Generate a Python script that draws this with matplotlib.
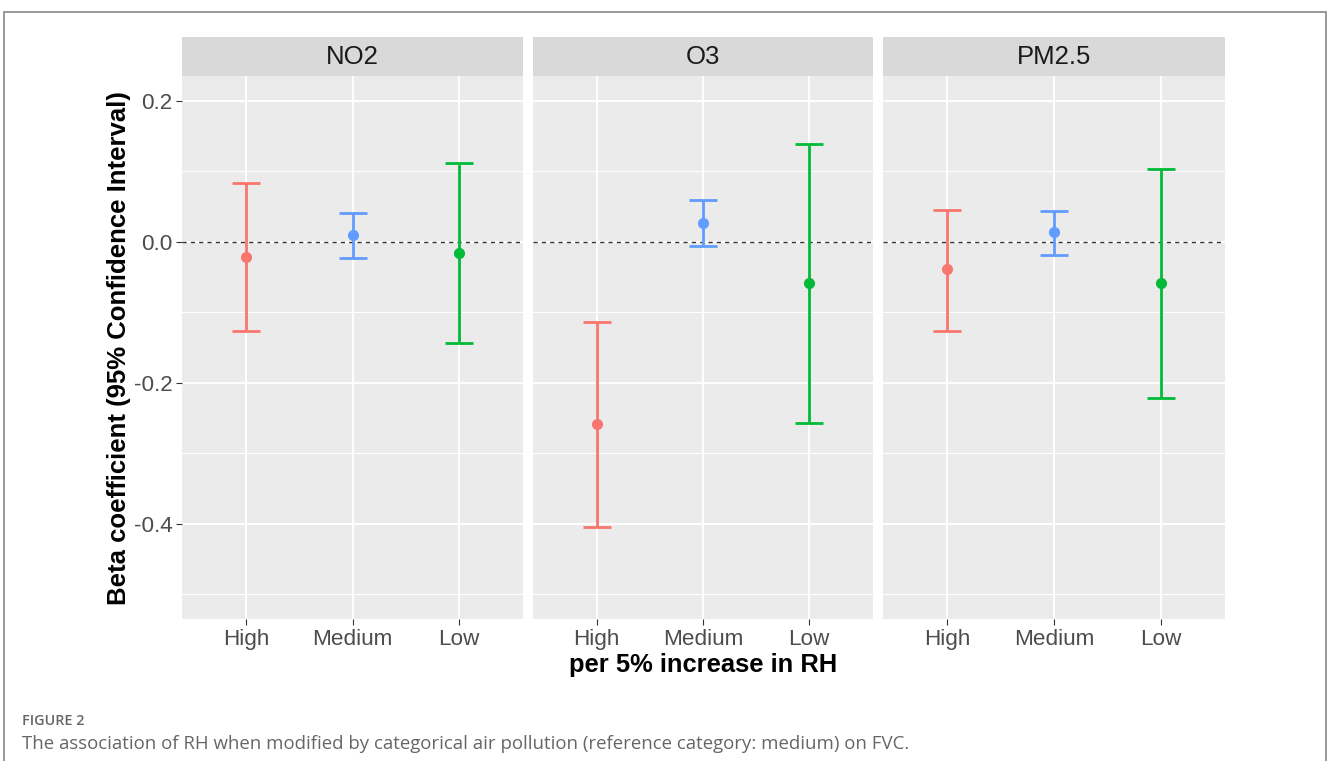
import matplotlib
matplotlib.use("Agg")
import matplotlib.pyplot as plt
from matplotlib.patches import Rectangle

pollutants = ["NO2", "O3", "PM2.5"]
levels = ["High", "Medium", "Low"]
colors = {"High": "#F8766D", "Medium": "#619CFF", "Low": "#00BA38"}

beta = {
    "NO2":   [-0.021, 0.010, -0.016],
    "O3":    [-0.258, 0.027, -0.058],
    "PM2.5": [-0.038, 0.014, -0.058],
}
lower = {
    "NO2":   [-0.126, -0.023, -0.143],
    "O3":    [-0.404, -0.006, -0.257],
    "PM2.5": [-0.126, -0.018, -0.221],
}
upper = {
    "NO2":   [0.084, 0.041, 0.112],
    "O3":    [-0.113, 0.060, 0.139],
    "PM2.5": [0.045, 0.044, 0.104],
}
yticks = [0.2, 0.0, -0.2, -0.4]
ytick_labels = ["0.2", "0.0", "-0.2", "-0.4"]
minor_y = [0.1, -0.1, -0.3, -0.5]

W, H = 1328, 761
fig = plt.figure(figsize=(W / 100, H / 100), dpi=100)
FONT = ["Liberation Sans", "DejaVu Sans"]

def px(x0, y0, x1, y1):
    return [x0 / W, 1 - y1 / H, (x1 - x0) / W, (y1 - y0) / H]

# outer frame
frame = Rectangle((4 / W, -0.05), (1326 - 4) / W, 1 - 12 / H + 0.05,
                  transform=fig.transFigure, fill=False, edgecolor="#888888", lw=1.2)
fig.patches.append(frame)

panels = [(182, 523), (533, 873), (883, 1225)]
ptop, pbot = 76, 619
stop = 37
ymin, ymax = -0.535, 0.2355

for i, (p, (x0, x1)) in enumerate(zip(pollutants, panels)):
    ax = fig.add_axes(px(x0, ptop, x1, pbot))
    ax.set_facecolor("#EBEBEB")
    ax.set_xlim(0.4, 3.6)
    ax.set_ylim(ymin, ymax)
    for s in ax.spines.values():
        s.set_visible(False)
    for yv in minor_y:
        ax.axhline(yv, color="white", lw=0.7, zorder=0)
    for yv in yticks:
        ax.axhline(yv, color="white", lw=1.4, zorder=0)
    for xv in range(1, 4):
        ax.axvline(xv, color="white", lw=1.4, zorder=0)
    ax.axhline(0, color="#333333", lw=1.0, ls=(0, (3, 3)), zorder=1)
    for j, lv in enumerate(levels):
        xpos = j + 1
        c = colors[lv]
        ax.errorbar([xpos], [beta[p][j]],
                    yerr=[[beta[p][j] - lower[p][j]], [upper[p][j] - beta[p][j]]],
                    fmt="o", color=c, ecolor=c, elinewidth=2.0, capsize=10,
                    capthick=2.0, markersize=7, zorder=3)
    ax.set_xticks([1, 2, 3])
    ax.set_xticklabels(levels, fontsize=16.2, color="#4D4D4D", family=FONT)
    ax.tick_params(axis="x", length=4, color="#333333", pad=3)
    if i == 0:
        ax.set_yticks(yticks)
        ax.set_yticklabels(ytick_labels, fontsize=16.2, color="#4D4D4D", family=FONT)
        ax.tick_params(axis="y", length=4, color="#333333", pad=3)
    else:
        ax.set_yticks([])
    # strip
    sax = fig.add_axes(px(x0, stop, x1, ptop))
    sax.set_facecolor("#D9D9D9")
    sax.set_xticks([]); sax.set_yticks([])
    for s in sax.spines.values():
        s.set_visible(False)
    sax.text(0.5, 0.5, p, ha="center", va="center", fontsize=18.5,
             color="#1A1A1A", family=FONT, transform=sax.transAxes)

fig.text(119 / W, 1 - 348 / H, "Beta coefficient (95% Confidence Interval)",
         rotation=90, ha="center", va="center", fontsize=18.5, fontweight="bold",
         family=FONT)
fig.text(703 / W, 1 - 665 / H, "per 5% increase in RH", ha="center", va="center",
         fontsize=18.4, fontweight="bold", family=FONT)

fig.text(22 / W, 1 - 721 / H, "FIGURE 2", ha="left", va="center", fontsize=10.4,
         fontweight="semibold", color="#666666", family=["Open Sans", "DejaVu Sans"])
fig.text(22 / W, 1 - 744 / H,
         "The association of RH when modified by categorical air pollution (reference category: medium) on FVC.",
         ha="left", va="center", fontsize=13.4, color="#666666",
         family=["Open Sans", "DejaVu Sans"])

fig.savefig("out.png", dpi=100)
